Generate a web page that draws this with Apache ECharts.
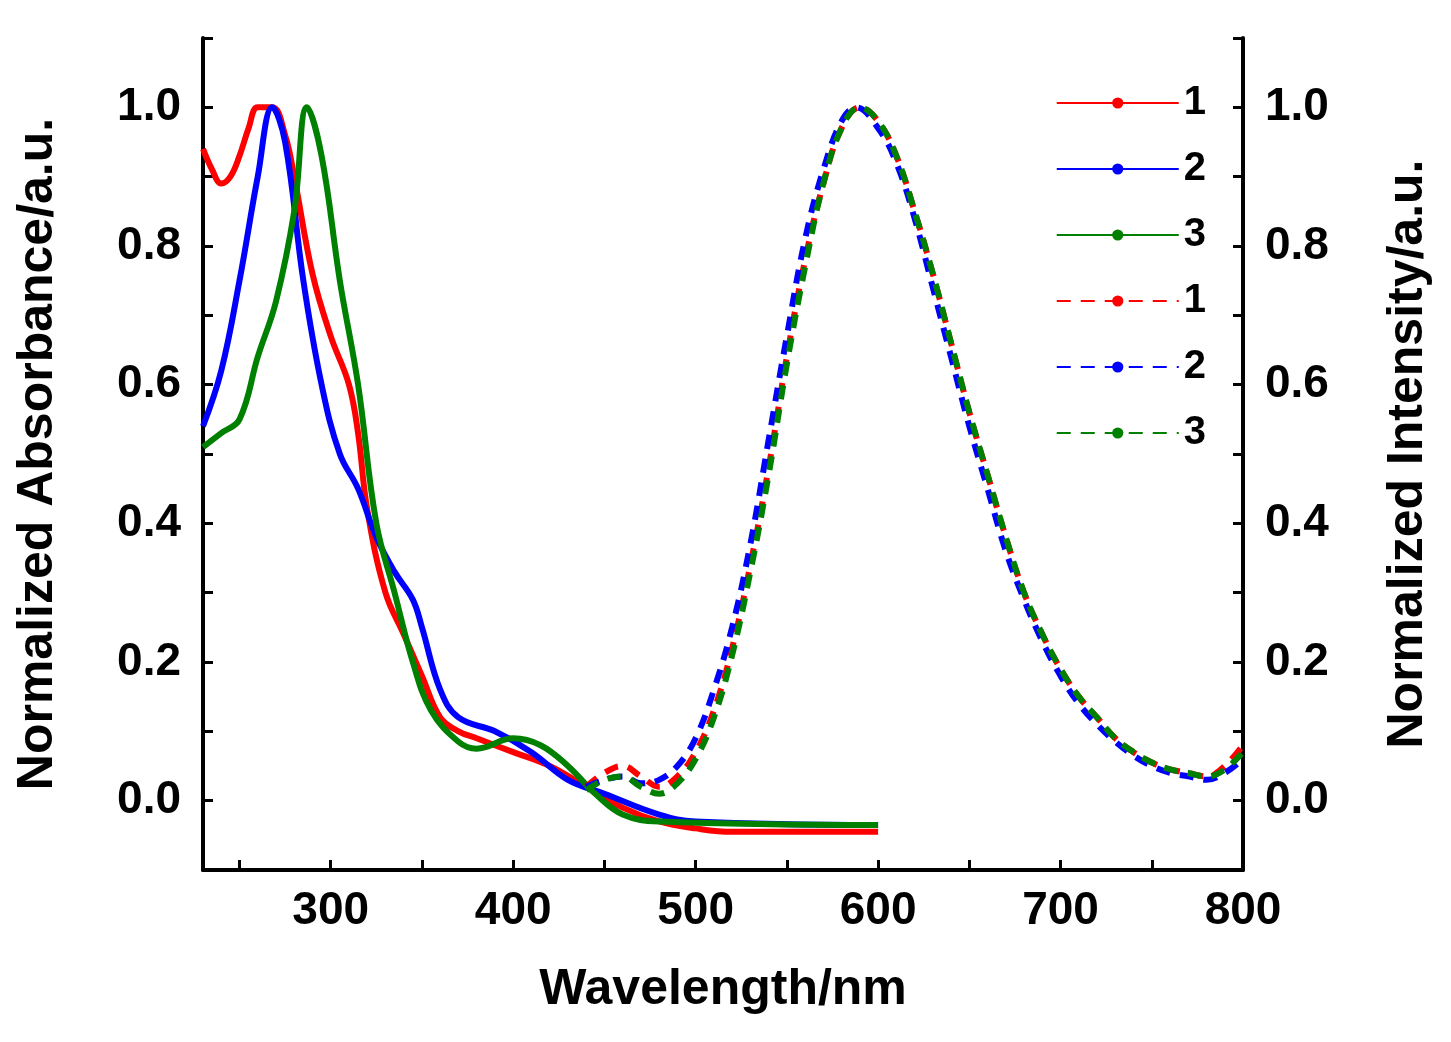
<!DOCTYPE html><html><head><meta charset="utf-8">
<script src="https://cdn.jsdelivr.net/npm/echarts@6/dist/echarts.min.js"></script>
<style>html,body{margin:0;background:#fff}#c{width:1451px;height:1042px}</style></head><body><div id="c"></div>
<script>
const abs1=[[230,0.94],[235,0.91],[240,0.89],[245,0.9],[250,0.93],[255,0.97],[260,1.0],[268,1.0],[275,0.96],[280,0.9],[290,0.76],[300,0.67],[310,0.6],[315,0.53],[320,0.42],[330,0.3],[340,0.24],[350,0.18],[360,0.12],[370,0.1],[380,0.09],[400,0.07],[420,0.05],[440,0.02],[460,-0.01],[480,-0.03],[500,-0.04],[520,-0.045],[600,-0.045]];
const abs2=[[230,0.54],[240,0.62],[250,0.75],[260,0.9],[268,1.0],[275,0.95],[285,0.75],[295,0.6],[305,0.5],[315,0.45],[325,0.38],[335,0.33],[345,0.29],[350,0.25],[360,0.16],[370,0.12],[390,0.1],[410,0.07],[430,0.03],[450,0.01],[480,-0.02],[500,-0.03],[600,-0.035]];
const abs3=[[230,0.51],[240,0.53],[250,0.55],[260,0.64],[270,0.72],[280,0.85],[287,1.0],[295,0.93],[305,0.75],[315,0.6],[325,0.4],[335,0.3],[345,0.2],[355,0.13],[370,0.085],[380,0.075],[400,0.09],[415,0.08],[430,0.05],[445,0.01],[460,-0.02],[480,-0.03],[600,-0.035]];
const em1=[[440,0.02],[450,0.04],[460,0.05],[470,0.035],[480,0.02],[490,0.035],[500,0.07],[510,0.13],[520,0.22],[530,0.34],[540,0.48],[550,0.64],[560,0.78],[570,0.89],[580,0.97],[590,1.0],[600,0.98],[610,0.93],[620,0.85],[630,0.76],[640,0.66],[650,0.56],[660,0.47],[670,0.38],[680,0.3],[690,0.24],[700,0.19],[710,0.15],[720,0.12],[730,0.09],[740,0.07],[750,0.055],[760,0.045],[770,0.04],[780,0.035],[790,0.05],[800,0.08]];
const em2=[[440,0.02],[450,0.03],[460,0.035],[470,0.025],[480,0.03],[490,0.05],[500,0.09],[510,0.16],[520,0.25],[530,0.37],[540,0.52],[550,0.67],[560,0.81],[570,0.91],[580,0.98],[588,1.0],[600,0.97],[610,0.92],[620,0.84],[630,0.74],[640,0.64],[650,0.54],[660,0.45],[670,0.36],[680,0.29],[690,0.23],[700,0.18],[710,0.14],[720,0.11],[730,0.085],[740,0.065],[750,0.05],[760,0.04],[770,0.035],[780,0.03],[790,0.04],[800,0.06]];
const em3=[[440,0.015],[450,0.03],[460,0.035],[470,0.02],[480,0.01],[490,0.025],[500,0.06],[510,0.12],[520,0.21],[530,0.33],[540,0.47],[550,0.63],[560,0.77],[570,0.89],[580,0.97],[590,1.0],[600,0.98],[610,0.93],[620,0.85],[630,0.76],[640,0.66],[650,0.56],[660,0.47],[670,0.38],[680,0.3],[690,0.24],[700,0.19],[710,0.15],[720,0.12],[730,0.09],[740,0.07],[750,0.055],[760,0.045],[770,0.04],[780,0.035],[790,0.045],[800,0.07]];
const xTicks=[300,400,500,600,700,800];
const xTickMarks=[250,300,350,400,450,500,550,600,650,700,750,800];
const F='Liberation Sans';
const ax={axisLine:{show:true,onZero:false,lineStyle:{color:'#000',width:4}},axisTick:{inside:true,length:10,lineStyle:{width:3,color:'#000'}},
 axisLabel:{color:'#000',fontSize:46,fontWeight:'bold',fontFamily:F},splitLine:{show:false},nameTextStyle:{color:'#000',fontSize:50,fontWeight:'bold',fontFamily:F}};
const yax=(pos,name)=>Object.assign({},ax,{type:'value',position:pos,min:-0.1,max:1.1,interval:0.1,name:name,nameLocation:'middle',nameGap:140,
 axisLabel:Object.assign({},ax.axisLabel,{formatter:v=>{const r=Math.round(v*10);return r>=0&&r%2===0?(r/10).toFixed(1):'';},margin:22})});
const mk=(name,data,color,dash,yi)=>({name,type:'line',data,yAxisIndex:yi,smooth:0.4,showSymbol:false,symbol:'none',lineStyle:{color,width:6,type:dash?[14,10]:'solid'},itemStyle:{color}});
echarts.init(document.getElementById('c')).setOption({
 animation:false,
 grid:{left:203,right:208,top:38,bottom:172},
 legend:{orient:'vertical',right:240,top:78,itemWidth:122,itemHeight:14,itemGap:26,
  textStyle:{color:'#000',fontSize:40,fontWeight:'bold',fontFamily:F},
  data:['1','2','3','1 ','2 ','3 '],formatter:n=>n.trim()},
 xAxis:Object.assign({},ax,{type:'value',min:230,max:800,name:'Wavelength/nm',nameLocation:'middle',nameGap:95,
  axisTick:Object.assign({},ax.axisTick,{customValues:xTickMarks}),
  axisLabel:Object.assign({},ax.axisLabel,{margin:18,customValues:xTicks})}),
 yAxis:[yax('left','Normalized Absorbance/a.u.'),yax('right','Normalized Intensity/a.u.')],
 series:[mk('1',abs1,'#ff0000',false,0),mk('2',abs2,'#0000ff',false,0),mk('3',abs3,'#008000',false,0),
  mk('1 ',em1,'#ff0000',true,1),mk('2 ',em2,'#0000ff',true,1),mk('3 ',em3,'#008000',true,1)]
});
</script></body></html>
